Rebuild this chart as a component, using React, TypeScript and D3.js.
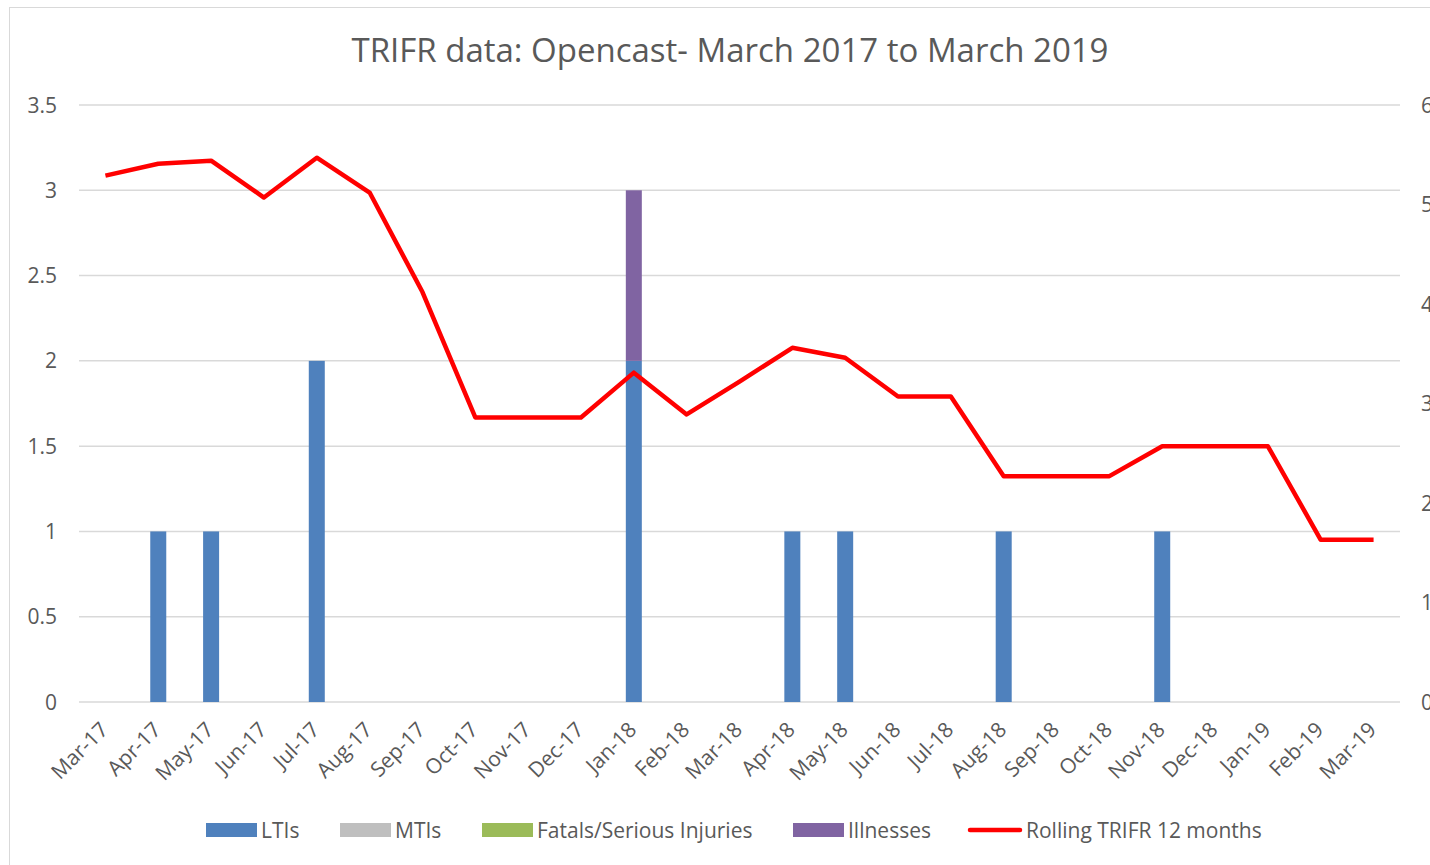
import React, { useEffect, useRef } from 'react';
import * as d3 from 'd3';

// chart data
const months = [
  'Mar-17', 'Apr-17', 'May-17', 'Jun-17', 'Jul-17', 'Aug-17', 'Sep-17', 'Oct-17', 'Nov-17',
  'Dec-17', 'Jan-18', 'Feb-18', 'Mar-18', 'Apr-18', 'May-18', 'Jun-18', 'Jul-18', 'Aug-18',
  'Sep-18', 'Oct-18', 'Nov-18', 'Dec-18', 'Jan-19', 'Feb-19', 'Mar-19',
];
const ltis = [0, 1, 1, 0, 2, 0, 0, 0, 0, 0, 2, 0, 0, 1, 1, 0, 0, 1, 0, 0, 1, 0, 0, 0, 0];
const mtis = [0, 0, 0, 0, 0, 0, 0, 0, 0, 0, 0, 0, 0, 0, 0, 0, 0, 0, 0, 0, 0, 0, 0, 0, 0];
const fatals = [0, 0, 0, 0, 0, 0, 0, 0, 0, 0, 0, 0, 0, 0, 0, 0, 0, 0, 0, 0, 0, 0, 0, 0, 0];
const illnesses = [0, 0, 0, 0, 0, 0, 0, 0, 0, 0, 1, 0, 0, 0, 0, 0, 0, 0, 0, 0, 0, 0, 0, 0, 0];
const rolling = [
  5.29, 5.41, 5.44, 5.07, 5.47, 5.12, 4.12, 2.86, 2.86, 2.86, 3.31, 2.89, 3.22, 3.56, 3.46,
  3.07, 3.07, 2.27, 2.27, 2.27, 2.57, 2.57, 2.57, 1.63, 1.63,
];
const leftTicks = [0, 0.5, 1, 1.5, 2, 2.5, 3, 3.5];
const rightTicks = [0, 1, 2, 3, 4, 5, 6];

const barSeries = [
  { key: 'LTIs', values: ltis, color: '#4F81BD' },
  { key: 'MTIs', values: mtis, color: '#BFBFBF' },
  { key: 'Fatals/Serious Injuries', values: fatals, color: '#9BBB59' },
  { key: 'Illnesses', values: illnesses, color: '#8064A2' },
];

const FONT = '"Open Sans", sans-serif';
const TEXT = '#595959';

const App = () => {
  const ref = useRef<SVGSVGElement | null>(null);

  useEffect(() => {
    const svg = d3.select(ref.current);
    svg.selectAll('*').remove();

    const left = 79, right = 1400, top = 105, bottom = 702;

    const x = d3.scaleBand<string>().domain(months).range([left, right]).padding(0);
    const yL = d3.scaleLinear().domain([0, 3.5]).range([bottom, top]);
    const yR = d3.scaleLinear().domain([0, 6]).range([bottom, top]);

    // outer border
    svg.append('rect')
      .attr('x', 9.5).attr('y', 7.5)
      .attr('width', 1440).attr('height', 900)
      .attr('fill', 'white').attr('stroke', '#D9D9D9');

    // title
    svg.append('text')
      .attr('x', 730).attr('y', 62)
      .attr('text-anchor', 'middle')
      .style('font-family', FONT).style('font-size', '33px').style('fill', TEXT)
      .text('TRIFR data: Opencast- March 2017 to March 2019');

    // gridlines
    svg.append('g')
      .selectAll('line')
      .data(leftTicks)
      .enter()
      .append('line')
      .attr('x1', left).attr('x2', right)
      .attr('y1', (d) => yL(d)).attr('y2', (d) => yL(d))
      .attr('stroke', '#D9D9D9').attr('stroke-width', 1.5);

    // left axis labels
    svg.append('g')
      .selectAll('text')
      .data(leftTicks)
      .enter()
      .append('text')
      .attr('x', 57).attr('y', (d) => yL(d) + 7.5)
      .attr('text-anchor', 'end')
      .style('font-family', FONT).style('font-size', '21px').style('fill', TEXT)
      .text((d) => String(d));

    // right axis labels (cut by the page edge, as in the original)
    svg.append('g')
      .selectAll('text')
      .data(rightTicks)
      .enter()
      .append('text')
      .attr('x', 1421).attr('y', (d) => yR(d) + 7.5)
      .style('font-family', FONT).style('font-size', '21px').style('fill', TEXT)
      .text((d) => String(d));

    // stacked bars
    const stackData = months.map((m, i) => {
      const row: Record<string, any> = { month: m };
      barSeries.forEach((s) => { row[s.key] = s.values[i]; });
      return row;
    });
    const stack = d3.stack<any>().keys(barSeries.map((s) => s.key));
    const layers = stack(stackData);
    const barW = 16;

    svg.append('g')
      .selectAll('g')
      .data(layers)
      .enter()
      .append('g')
      .attr('fill', (_d, i) => barSeries[i].color)
      .selectAll('rect')
      .data((d) => d)
      .enter()
      .append('rect')
      .attr('x', (d: any) => x(d.data.month)! + x.bandwidth() / 2 - barW / 2)
      .attr('width', barW)
      .attr('y', (d) => yL(d[1]))
      .attr('height', (d) => yL(d[0]) - yL(d[1]));

    // rolling line
    const line = d3.line<number>()
      .x((_d, i) => x(months[i])! + x.bandwidth() / 2)
      .y((d) => yR(d));

    svg.append('path')
      .datum(rolling)
      .attr('fill', 'none')
      .attr('stroke', '#FF0000')
      .attr('stroke-width', 4.5)
      .attr('stroke-linejoin', 'round')
      .attr('d', line);

    // x labels
    svg.append('g')
      .selectAll('text')
      .data(months)
      .enter()
      .append('text')
      .attr('transform', (d) => `translate(${x(d)! + x.bandwidth() / 2 + 4},${731}) rotate(-45)`)
      .attr('text-anchor', 'end')
      .style('font-family', FONT).style('font-size', '21px').style('fill', TEXT)
      .text((d) => d);

    // legend
    const legend = [
      { label: 'LTIs', color: '#4F81BD', x: 206, type: 'box' },
      { label: 'MTIs', color: '#BFBFBF', x: 340, type: 'box' },
      { label: 'Fatals/Serious Injuries', color: '#9BBB59', x: 482, type: 'box' },
      { label: 'Illnesses', color: '#8064A2', x: 793, type: 'box' },
      { label: 'Rolling TRIFR 12 months', color: '#FF0000', x: 968, type: 'line' },
    ];
    const lg = svg.append('g');
    legend.forEach((l) => {
      if (l.type === 'box') {
        lg.append('rect').attr('x', l.x).attr('y', 823).attr('width', 51).attr('height', 14).attr('fill', l.color);
      } else {
        lg.append('line').attr('x1', l.x + 2).attr('x2', l.x + 52).attr('y1', 830).attr('y2', 830)
          .attr('stroke', l.color).attr('stroke-width', 4.5).attr('stroke-linecap', 'round');
      }
      lg.append('text')
        .attr('x', l.x + (l.type === 'box' ? 55 : 58)).attr('y', 838)
        .style('font-family', FONT).style('font-size', '21px').style('fill', TEXT)
        .text(l.label);
    });
  }, []);

  return (
    <div style={{ position: 'fixed', left: 0, top: 0, width: 1430, height: 865, overflow: 'hidden', background: 'white' }}>
      <svg ref={ref} width={1430} height={865} style={{ display: 'block' }} />
    </div>
  );
};

export default App;
